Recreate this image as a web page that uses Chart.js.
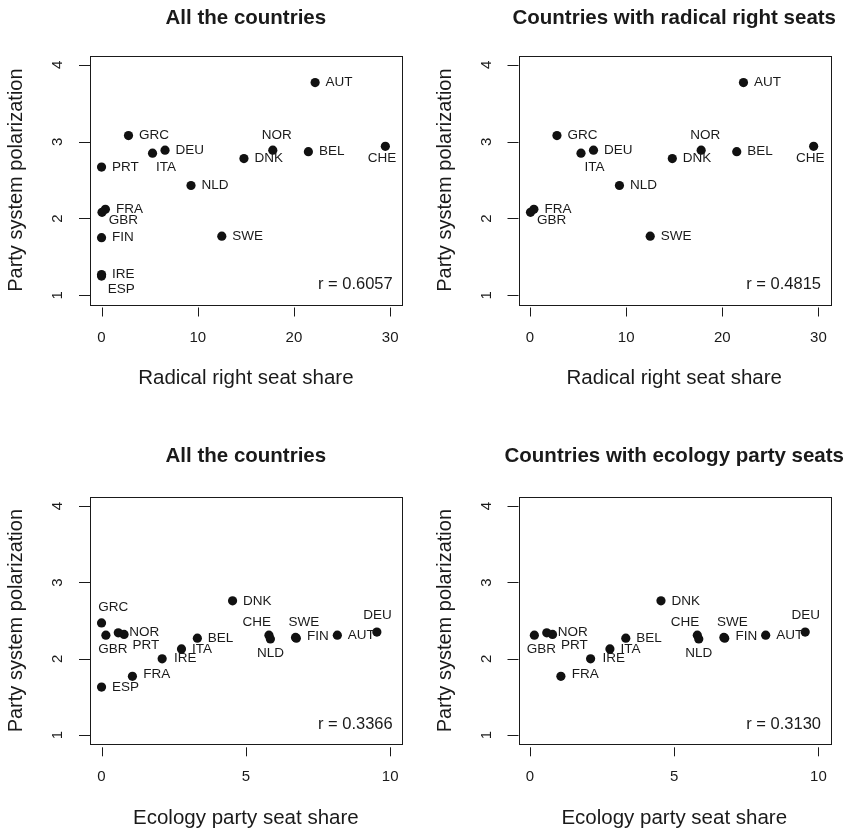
<!DOCTYPE html>
<html>
<head>
<meta charset="utf-8">
<title>Party system polarization</title>
<script src="https://cdn.jsdelivr.net/npm/chart.js@4.4.1/dist/chart.umd.min.js"></script>
<style>
  body { margin: 0; background: #fff; }
  #wrap { position: relative; width: 852px; height: 832px; overflow: hidden; }
  canvas { position: absolute; }
</style>
</head>
<body>
<div id="wrap">
  <canvas id="tl" width="426" height="416" style="left:0;top:0"></canvas>
  <canvas id="tr" width="426" height="416" style="left:426px;top:0"></canvas>
  <canvas id="bl" width="426" height="416" style="left:0;top:416px"></canvas>
  <canvas id="br" width="426" height="416" style="left:426px;top:416px"></canvas>
</div>
<script>
// countries and their values
const countries = ['AUT', 'BEL', 'CHE', 'DEU', 'DNK', 'ESP', 'FIN', 'FRA', 'GBR', 'GRC', 'IRE', 'ITA', 'NLD', 'NOR', 'PRT', 'SWE'];
const radicalRightShare = [22.2, 21.5, 29.5, 6.6, 14.8, 0, 0, 0.4, 0.05, 2.8, 0, 5.3, 9.3, 17.8, 0, 12.5];
const polarizationRR = [3.77, 2.87, 2.94, 2.89, 2.78, 1.25, 1.75, 2.12, 2.08, 3.08, 1.27, 2.85, 2.43, 2.89, 2.67, 1.77];
const ecologyShare = [8.17, 3.32, 5.8, 9.54, 4.54, 0, 6.75, 1.07, 0.15, 0, 2.1, 2.77, 5.85, 0.78, 0.58, 6.72];
const polarizationEco = [2.31, 2.27, 2.31, 2.35, 2.76, 1.63, 2.27, 1.77, 2.31, 2.47, 2.0, 2.13, 2.26, 2.32, 2.34, 2.28];

const rrTicks = [0, 10, 20, 30];
const ecoTicks = [0, 5, 10];
const yTicks = [1, 2, 3, 4];
const corrText = ['0.6057', '0.4815', '0.3366', '0.3130'];

const FONT = '"Liberation Sans", Arial, Helvetica, sans-serif';
const INK = '#1a1a1a';

// label placement: [align, dx, dy]
const rrLabelPos = {
  NOR: ['center', 4, -14.7], CHE: ['center', -3.3, 12.3], ITA: ['left', 3.4, 14],
  GBR: ['left', 6.6, 8], ESP: ['left', 6.3, 13]
};
const ecoLabelPos = {
  GRC: ['left', -3.4, -16], GBR: ['left', -7.7, 14.3], PRT: ['left', 14.3, 12.7],
  NOR: ['left', 5.1, -2.4], FRA: ['left', 10.8, -1.7], IRE: ['left', 11.8, -1],
  CHE: ['center', -12.2, -12.4], NLD: ['center', 0, 14], SWE: ['center', 8.5, -15.3],
  FIN: ['left', 10.7, -1.7], DEU: ['center', 0.6, -16.6]
};

function padded(lim) {
  const d = (lim[1] - lim[0]) * 0.04;
  return [lim[0] - d, lim[1] + d];
}

function points(xs, ys, keep) {
  const out = [];
  countries.forEach((c, i) => {
    if (keep(xs[i])) out.push({ x: xs[i], y: ys[i], label: c });
  });
  return out;
}

const decor = {
  id: 'decor',
  afterDatasetsDraw(chart) {
    const o = chart.options.plugins.decor;
    const ctx = chart.ctx;
    const a = chart.chartArea;
    const xs = chart.scales.x, ys = chart.scales.y;
    ctx.save();
    ctx.fillStyle = INK;
    ctx.strokeStyle = INK;
    ctx.lineWidth = 1;

    // frame
    ctx.strokeRect(Math.round(a.left) + 0.5, Math.round(a.top) + 0.5,
      Math.round(a.right - a.left), Math.round(a.bottom - a.top));

    // point labels
    ctx.font = '13.5px ' + FONT;
    ctx.textBaseline = 'middle';
    chart.data.datasets[0].data.forEach(p => {
      const pos = o.labelPos[p.label] || ['left', 10.5, 0];
      ctx.textAlign = pos[0];
      ctx.fillText(p.label, xs.getPixelForValue(p.x) + pos[1], ys.getPixelForValue(p.y) + pos[2]);
    });

    // x axis
    ctx.beginPath();
    o.xTicks.forEach(t => {
      const px = Math.round(xs.getPixelForValue(t)) + 0.5;
      ctx.moveTo(px, a.bottom + 3);
      ctx.lineTo(px, a.bottom + 12);
    });
    ctx.stroke();
    ctx.font = '15px ' + FONT;
    ctx.textAlign = 'center';
    o.xTicks.forEach(t => ctx.fillText(String(t), xs.getPixelForValue(t), a.bottom + 33));
    ctx.font = '20.5px ' + FONT;
    ctx.fillText(o.xTitle, (a.left + a.right) / 2, a.bottom + 74);

    // y axis
    ctx.beginPath();
    yTicks.forEach(t => {
      const py = Math.round(ys.getPixelForValue(t)) + 0.5;
      ctx.moveTo(a.left - 11, py);
      ctx.lineTo(a.left, py);
    });
    ctx.stroke();
    ctx.font = '15px ' + FONT;
    yTicks.forEach(t => {
      ctx.save();
      ctx.translate(a.left - 32, ys.getPixelForValue(t));
      ctx.rotate(-Math.PI / 2);
      ctx.fillText(String(t), 0, 0);
      ctx.restore();
    });
    ctx.save();
    ctx.font = '20px ' + FONT;
    ctx.translate(a.left - 73.5, (a.top + a.bottom) / 2);
    ctx.rotate(-Math.PI / 2);
    ctx.fillText('Party system polarization', 0, 0);
    ctx.restore();

    // heading
    ctx.font = 'bold 20.5px ' + FONT;
    ctx.fillText(o.title, (a.left + a.right) / 2, a.top - o.titleGap);

    // correlation
    ctx.font = '16.5px ' + FONT;
    ctx.textAlign = 'right';
    ctx.fillText('r = ' + o.r, a.right - 9, a.bottom - 20);
    ctx.restore();
  }
};

function makePanel(id, data, xLim, opts, padding) {
  const xr = padded(xLim), yr = padded([1, 4]);
  return new Chart(document.getElementById(id), {
    type: 'scatter',
    data: {
      datasets: [{
        data: data,
        pointRadius: 4.6,
        pointHoverRadius: 4.6,
        backgroundColor: '#111',
        borderWidth: 0
      }]
    },
    options: {
      responsive: false,
      animation: false,
      devicePixelRatio: 1,
      events: [],
      layout: { padding: padding },
      scales: {
        x: { type: 'linear', min: xr[0], max: xr[1], display: false },
        y: { type: 'linear', min: yr[0], max: yr[1], display: false }
      },
      plugins: {
        legend: { display: false },
        tooltip: { enabled: false },
        decor: opts
      }
    },
    plugins: [decor]
  });
}

makePanel('tl', points(radicalRightShare, polarizationRR, () => true), [0, 30],
  { title: 'All the countries', xTitle: 'Radical right seat share', xTicks: rrTicks, r: corrText[0], labelPos: rrLabelPos, titleGap: 37.7 },
  { left: 90, top: 55.7, right: 24.3, bottom: 111.5 });

makePanel('tr', points(radicalRightShare, polarizationRR, v => v > 0), [0, 30],
  { title: 'Countries with radical right seats', xTitle: 'Radical right seat share', xTicks: rrTicks, r: corrText[1], labelPos: rrLabelPos, titleGap: 37.7 },
  { left: 92.5, top: 55.7, right: 22, bottom: 111.5 });

makePanel('bl', points(ecologyShare, polarizationEco, () => true), [0, 10],
  { title: 'All the countries', xTitle: 'Ecology party seat share', xTicks: ecoTicks, r: corrText[2], labelPos: ecoLabelPos, titleGap: 41 },
  { left: 90, top: 81, right: 24.3, bottom: 87.7 });

makePanel('br', points(ecologyShare, polarizationEco, v => v > 0), [0, 10],
  { title: 'Countries with ecology party seats', xTitle: 'Ecology party seat share', xTicks: ecoTicks, r: corrText[3], labelPos: ecoLabelPos, titleGap: 41 },
  { left: 92.5, top: 81, right: 22, bottom: 87.7 });
</script>
</body>
</html>
